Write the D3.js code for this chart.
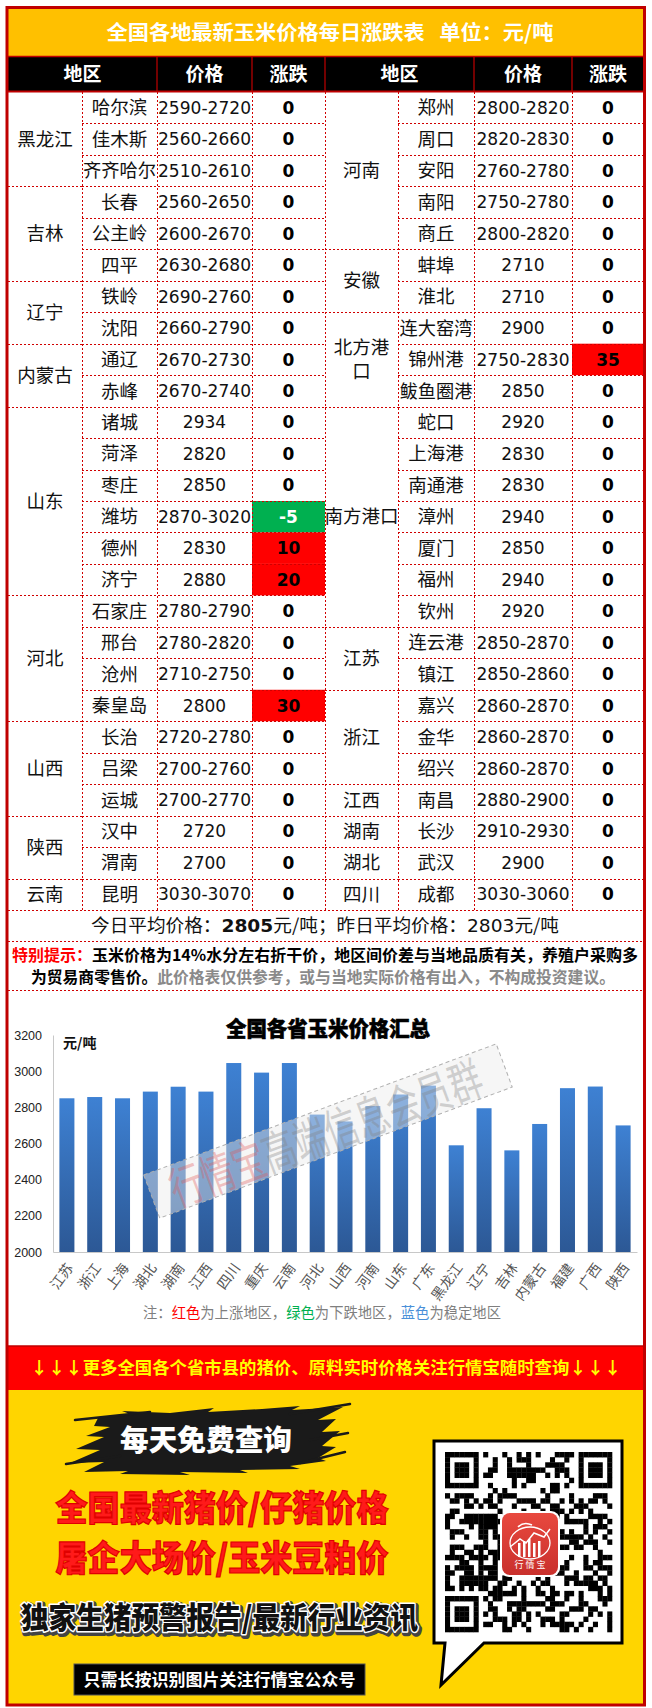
<!DOCTYPE html>
<html>
<head>
<meta charset="utf-8">
<script src="https://cdn.jsdelivr.net/npm/d3@7"></script>
<style>
  body { margin: 0; background: #fff; }
  svg { display: block; }
</style>
</head>
<body>
<div id="page"></div>
<script>
// ---- table data: [province, city, price, change] ----
const leftRows = [
  ['黑龙江', '哈尔滨', '2590-2720', 0],
  ['黑龙江', '佳木斯', '2560-2660', 0],
  ['黑龙江', '齐齐哈尔', '2510-2610', 0],
  ['吉林', '长春', '2560-2650', 0],
  ['吉林', '公主岭', '2600-2670', 0],
  ['吉林', '四平', '2630-2680', 0],
  ['辽宁', '铁岭', '2690-2760', 0],
  ['辽宁', '沈阳', '2660-2790', 0],
  ['内蒙古', '通辽', '2670-2730', 0],
  ['内蒙古', '赤峰', '2670-2740', 0],
  ['山东', '诸城', '2934', 0],
  ['山东', '菏泽', '2820', 0],
  ['山东', '枣庄', '2850', 0],
  ['山东', '潍坊', '2870-3020', -5],
  ['山东', '德州', '2830', 10],
  ['山东', '济宁', '2880', 20],
  ['河北', '石家庄', '2780-2790', 0],
  ['河北', '邢台', '2780-2820', 0],
  ['河北', '沧州', '2710-2750', 0],
  ['河北', '秦皇岛', '2800', 30],
  ['山西', '长治', '2720-2780', 0],
  ['山西', '吕梁', '2700-2760', 0],
  ['山西', '运城', '2700-2770', 0],
  ['陕西', '汉中', '2720', 0],
  ['陕西', '渭南', '2700', 0],
  ['云南', '昆明', '3030-3070', 0]
];
const rightRows = [
  ['河南', '郑州', '2800-2820', 0],
  ['河南', '周口', '2820-2830', 0],
  ['河南', '安阳', '2760-2780', 0],
  ['河南', '南阳', '2750-2780', 0],
  ['河南', '商丘', '2800-2820', 0],
  ['安徽', '蚌埠', '2710', 0],
  ['安徽', '淮北', '2710', 0],
  ['北方港口', '连大窑湾', '2900', 0],
  ['北方港口', '锦州港', '2750-2830', 35],
  ['北方港口', '鲅鱼圈港', '2850', 0],
  ['南方港口', '蛇口', '2920', 0],
  ['南方港口', '上海港', '2830', 0],
  ['南方港口', '南通港', '2830', 0],
  ['南方港口', '漳州', '2940', 0],
  ['南方港口', '厦门', '2850', 0],
  ['南方港口', '福州', '2940', 0],
  ['南方港口', '钦州', '2920', 0],
  ['江苏', '连云港', '2850-2870', 0],
  ['江苏', '镇江', '2850-2860', 0],
  ['浙江', '嘉兴', '2860-2870', 0],
  ['浙江', '金华', '2860-2870', 0],
  ['浙江', '绍兴', '2860-2870', 0],
  ['江西', '南昌', '2880-2900', 0],
  ['湖南', '长沙', '2910-2930', 0],
  ['湖北', '武汉', '2900', 0],
  ['四川', '成都', '3030-3060', 0]
];
const headerLabels = ['地区', '价格', '涨跌'];
const todayAvg = 2805;
const yesterdayAvg = 2803;

// ---- chart data ----
const chartProvinces = ['江苏', '浙江', '上海', '湖北', '湖南', '江西', '四川', '重庆', '云南', '河北', '山西',
  '河南', '山东', '广东', '黑龙江', '辽宁', '吉林', '内蒙古', '福建', '广西', '陕西'];
const chartPrices = [2850, 2857, 2850, 2887, 2914, 2887, 3045, 2992, 3045, 2760, 2722,
  2807, 2871, 2920, 2590, 2795, 2562, 2708, 2906, 2915, 2700];
const yTicks = [2000, 2200, 2400, 2600, 2800, 3000, 3200];

const W = 652, H = 1708;
const CJK = '"Noto Sans CJK SC", "Noto Sans", sans-serif';
const NUM = '"DejaVu Sans", "Noto Sans CJK SC", sans-serif';
const DARKRED = '#C00000';

const svg = d3.select('#page').append('svg')
  .attr('width', W).attr('height', H);

// backgrounds
svg.append('rect').attr('x', 8).attr('y', 9).attr('width', 636).attr('height', 47).attr('fill', '#FFC000');
svg.append('rect').attr('x', 8).attr('y', 57).attr('width', 636).attr('height', 34).attr('fill', '#000');

svg.append('text')
  .attr('x', 330).attr('y', 33).attr('dy', '0.36em')
  .attr('text-anchor', 'middle')
  .attr('font-family', CJK).attr('font-weight', 700).attr('font-size', 20)
  .attr('fill', '#fff')
  .attr('textLength', 447).attr('lengthAdjust', 'spacingAndGlyphs')
  .text('全国各地最新玉米价格每日涨跌表\u00a0\u00a0\u00a0单位：元/吨');

// ---- table ----
const rowY = d3.scaleLinear().domain([0, leftRows.length]).range([92, 910]);
const rh = rowY(1) - rowY(0);
const leftCols = [8, 82, 157, 252, 325];
const rightCols = [325, 398, 474, 572, 644];
const wrapNames = { '北方港口': ['北方港', '口'] };

function groupRows(rows) {
  const out = [];
  rows.forEach((r, i) => {
    const last = out[out.length - 1];
    if (last && last.name === r[0]) last.n++;
    else out.push({ name: r[0], start: i, n: 1 });
  });
  return out;
}

// header
[leftCols, rightCols].forEach(cols => {
  const centers = [(cols[0] + cols[2]) / 2, (cols[2] + cols[3]) / 2, (cols[3] + cols[4]) / 2];
  svg.append('g').selectAll('text').data(headerLabels).join('text')
    .attr('x', (d, i) => centers[i]).attr('y', 74).attr('dy', '0.36em')
    .attr('text-anchor', 'middle')
    .attr('font-family', CJK).attr('font-weight', 700).attr('font-size', 19)
    .attr('fill', '#fff')
    .text(d => d);
  svg.append('g').selectAll('line').data(cols.slice(2, 5)).join('line')
    .attr('x1', d => d).attr('x2', d => d).attr('y1', 57).attr('y2', 91)
    .attr('stroke', DARKRED).attr('stroke-width', 1.2);
});
svg.append('line').attr('x1', 8).attr('x2', 644).attr('y1', 56.5).attr('y2', 56.5)
  .attr('stroke', DARKRED).attr('stroke-width', 1.5);
svg.append('line').attr('x1', 8).attr('x2', 644).attr('y1', 91.5).attr('y2', 91.5)
  .attr('stroke', DARKRED).attr('stroke-width', 2);

function drawSide(rows, cols) {
  const g = svg.append('g');
  const data = rows.map((r, i) => ({ prov: r[0], city: r[1], price: r[2], chg: r[3], i }));

  // coloured change cells
  g.selectAll('rect.chg').data(data.filter(d => d.chg !== 0)).join('rect')
    .attr('class', 'chg')
    .attr('x', cols[3]).attr('width', cols[4] - cols[3])
    .attr('y', d => rowY(d.i)).attr('height', rh)
    .attr('fill', d => d.chg > 0 ? '#FF0000' : '#00B050');

  const dotted = sel => sel.attr('stroke', '#D00000').attr('stroke-width', 1).attr('stroke-dasharray', '2,2');

  // row lines through city / price / change columns
  g.selectAll('line.row').data(d3.range(1, rows.length)).join('line')
    .attr('x1', cols[1]).attr('x2', cols[4])
    .attr('y1', d => Math.round(rowY(d)) + 0.5).attr('y2', d => Math.round(rowY(d)) + 0.5)
    .call(dotted);

  const groups = groupRows(rows);
  g.selectAll('line.grp').data(groups.slice(1)).join('line')
    .attr('x1', cols[0]).attr('x2', cols[1])
    .attr('y1', d => Math.round(rowY(d.start)) + 0.5).attr('y2', d => Math.round(rowY(d.start)) + 0.5)
    .call(dotted);

  g.selectAll('line.col').data(cols.slice(1, 5)).join('line')
    .attr('x1', d => d + 0.5).attr('x2', d => d + 0.5)
    .attr('y1', 92).attr('y2', 910)
    .call(dotted);

  // province labels
  groups.forEach(gp => {
    const cy = rowY(gp.start + gp.n / 2);
    const lines = wrapNames[gp.name] || [gp.name];
    g.append('g').selectAll('text').data(lines).join('text')
      .attr('x', (cols[0] + cols[1]) / 2)
      .attr('y', (d, k) => cy + (k - (lines.length - 1) / 2) * 24)
      .attr('dy', '0.36em').attr('text-anchor', 'middle')
      .attr('font-family', CJK).attr('font-size', 18.5).attr('fill', '#111')
      .text(d => d);
  });

  // cities
  g.selectAll('text.city').data(data).join('text')
    .attr('x', (cols[1] + cols[2]) / 2).attr('y', d => rowY(d.i + 0.5))
    .attr('dy', '0.36em').attr('text-anchor', 'middle')
    .attr('font-family', CJK).attr('font-size', 18.5).attr('fill', '#111')
    .attr('textLength', d => d.city.length > 3 ? 73 : null)
    .attr('lengthAdjust', 'spacingAndGlyphs')
    .text(d => d.city);

  // prices
  g.selectAll('text.price').data(data).join('text')
    .attr('x', (cols[2] + cols[3]) / 2).attr('y', d => rowY(d.i + 0.5))
    .attr('dy', '0.36em').attr('text-anchor', 'middle')
    .attr('font-family', NUM).attr('font-size', 17).attr('fill', '#111')
    .attr('textLength', d => d.price.length > 4 ? 93 : null)
    .attr('lengthAdjust', 'spacingAndGlyphs')
    .text(d => d.price);

  // changes
  g.selectAll('text.chgt').data(data).join('text')
    .attr('x', (cols[3] + cols[4]) / 2).attr('y', d => rowY(d.i + 0.5))
    .attr('dy', '0.36em').attr('text-anchor', 'middle')
    .attr('font-family', NUM).attr('font-weight', 700).attr('font-size', 17)
    .attr('fill', d => d.chg < 0 ? '#fff' : '#000')
    .text(d => d.chg);
}
drawSide(leftRows, leftCols);
drawSide(rightRows, rightCols);

[910.5, 941.5, 990.5].forEach(yy => {
  svg.append('line').attr('x1', 8).attr('x2', 644).attr('y1', yy).attr('y2', yy)
    .attr('stroke', '#D00000').attr('stroke-width', 1).attr('stroke-dasharray', '2,2');
});

// averages
const avg = svg.append('text')
  .attr('x', 325).attr('y', 926).attr('dy', '0.36em').attr('text-anchor', 'middle')
  .attr('font-family', CJK).attr('font-size', 18).attr('fill', '#111')
  .attr('textLength', 468).attr('lengthAdjust', 'spacingAndGlyphs');
avg.append('tspan').text('今日平均价格：');
avg.append('tspan').attr('font-weight', 700).attr('font-family', NUM).text(todayAvg);
avg.append('tspan').text('元/吨；昨日平均价格：');
avg.append('tspan').attr('font-family', NUM).text(yesterdayAvg);
avg.append('tspan').text('元/吨');

// special note
const n1 = svg.append('text')
  .attr('x', 12).attr('y', 955).attr('dy', '0.36em')
  .attr('font-family', CJK).attr('font-size', 16).attr('font-weight', 700)
  .attr('textLength', 626).attr('lengthAdjust', 'spacingAndGlyphs');
n1.append('tspan').attr('fill', '#FF0000').text('特别提示：');
n1.append('tspan').attr('fill', '#000').text('玉米价格为14%水分左右折干价，地区间价差与当地品质有关，养殖户采购多');
const n2 = svg.append('text')
  .attr('x', 31).attr('y', 977).attr('dy', '0.36em')
  .attr('font-family', CJK).attr('font-size', 16).attr('font-weight', 700)
  .attr('textLength', 584).attr('lengthAdjust', 'spacingAndGlyphs');
n2.append('tspan').attr('fill', '#000').text('为贸易商零售价。');
n2.append('tspan').attr('fill', '#8a8a8a').text('此价格表仅供参考，或与当地实际价格有出入，不构成投资建议。');

// ---- bar chart ----
const defs = svg.append('defs');
const grad = defs.append('linearGradient').attr('id', 'barGrad')
  .attr('x1', 0).attr('y1', 0).attr('x2', 0).attr('y2', 1);
grad.append('stop').attr('offset', 0).attr('stop-color', '#3E81D3');
grad.append('stop').attr('offset', 1).attr('stop-color', '#2C5895');

const x = d3.scaleBand().domain(chartProvinces).range([53, 637])
  .paddingInner(0.46).paddingOuter(0.23);
const y = d3.scaleLinear().domain([2000, 3200]).range([1252, 1035]);

svg.append('text')
  .attr('x', 328).attr('y', 1028).attr('dy', '0.36em').attr('text-anchor', 'middle')
  .attr('font-family', CJK).attr('font-weight', 900).attr('font-size', 21)
  .attr('stroke', '#000').attr('stroke-width', 0.6)
  .attr('textLength', 204).attr('lengthAdjust', 'spacingAndGlyphs')
  .text('全国各省玉米价格汇总');

svg.append('g').selectAll('rect').data(chartProvinces).join('rect')
  .attr('x', d => x(d)).attr('width', x.bandwidth())
  .attr('y', (d, i) => y(chartPrices[i]))
  .attr('height', (d, i) => y(2000) - y(chartPrices[i]))
  .attr('fill', 'url(#barGrad)');

const yAxis = svg.append('g').attr('transform', 'translate(53,0)')
  .call(d3.axisLeft(y).tickValues(yTicks).tickSize(0).tickSizeOuter(0).tickPadding(11).tickFormat(d3.format('d')));
yAxis.select('.domain').attr('stroke', '#c8c8c8');
yAxis.selectAll('text')
  .attr('font-family', '"Liberation Sans Narrow", "Liberation Sans", sans-serif')
  .attr('font-size', 12.5).attr('fill', '#222');

const xAxis = svg.append('g').attr('transform', 'translate(0,1252)')
  .call(d3.axisBottom(x).tickSize(0).tickSizeOuter(0));
xAxis.select('.domain').attr('stroke', '#c8c8c8');
xAxis.selectAll('text')
  .attr('y', 0).attr('dy', '0.35em')
  .attr('transform', 'translate(3,13) rotate(-54)')
  .attr('text-anchor', 'end')
  .attr('font-family', CJK).attr('font-size', 14).attr('fill', '#555');

svg.append('text')
  .attr('x', 63).attr('y', 1043).attr('dy', '0.36em')
  .attr('font-family', CJK).attr('font-weight', 700).attr('font-size', 14).attr('fill', '#111')
  .text('元/吨');

// watermark
const wm = svg.append('g').attr('transform', 'translate(328,1131) rotate(-20.4)');
wm.append('rect').attr('x', -188).attr('y', -23).attr('width', 376).attr('height', 46)
  .attr('fill', 'rgba(235,235,235,0.45)')
  .attr('stroke', '#b0b0b0').attr('stroke-width', 1).attr('stroke-dasharray', '4,3');
const wmt = wm.append('text').attr('x', -168).attr('y', 2).attr('dy', '0.36em')
  .attr('font-family', CJK).attr('font-size', 46)
  .attr('textLength', 330).attr('lengthAdjust', 'spacingAndGlyphs');
wmt.append('tspan').attr('fill', 'rgba(225,90,90,0.35)').text('行情宝');
wmt.append('tspan').attr('fill', 'rgba(130,130,130,0.35)').text('高端信息会员群');

// legend note
const note = svg.append('text')
  .attr('x', 322).attr('y', 1313).attr('dy', '0.36em').attr('text-anchor', 'middle')
  .attr('font-family', CJK).attr('font-size', 15)
  .attr('textLength', 358).attr('lengthAdjust', 'spacingAndGlyphs');
[['注：', '#7f7f7f'], ['红色', '#FF0000'], ['为上涨地区，', '#7f7f7f'], ['绿色', '#00B050'],
 ['为下跌地区，', '#7f7f7f'], ['蓝色', '#4A90D9'], ['为稳定地区', '#7f7f7f']]
  .forEach(p => note.append('tspan').attr('fill', p[1]).text(p[0]));

// ---- promo footer ----
svg.append('rect').attr('x', 8).attr('y', 1346).attr('width', 636).attr('height', 44).attr('fill', '#FF0000');
svg.append('line').attr('x1', 8).attr('x2', 644).attr('y1', 1346).attr('y2', 1346).attr('stroke', DARKRED).attr('stroke-width', 1.5);
svg.append('text')
  .attr('x', 326).attr('y', 1368).attr('dy', '0.36em').attr('text-anchor', 'middle')
  .attr('font-family', CJK).attr('font-weight', 700).attr('font-size', 17).attr('fill', '#FFFF00')
  .attr('textLength', 591).attr('lengthAdjust', 'spacingAndGlyphs')
  .text('↓↓↓更多全国各个省市县的猪价、原料实时价格关注行情宝随时查询↓↓↓');

svg.append('rect').attr('x', 8).attr('y', 1390).attr('width', 636).attr('height', 316).attr('fill', '#FFD500');

// brush stroke behind the headline
const brush = svg.append('g');
brush.append('path')
  .attr('d', 'M98,1418 L130,1414 L122,1411 L170,1413 L214,1408 L208,1412 L262,1409 L300,1406 L292,1410 L343,1407 ' +
    'L318,1420 L336,1419 L322,1432 L340,1431 L322,1446 L336,1447 L318,1458 L326,1461 L290,1466 L300,1469 ' +
    'L240,1470 L248,1473 L180,1472 L190,1475 L120,1474 L128,1471 L84,1472 L104,1462 L70,1463 L100,1450 ' +
    'L76,1449 L104,1437 L86,1436 L110,1427 L94,1426 Z')
  .attr('fill', '#1a1a1a');
[[75, 1420, 150, 1412], [290, 1414, 350, 1404], [300, 1463, 345, 1452], [66, 1464, 120, 1456], [310, 1440, 348, 1433]]
  .forEach(s => brush.append('line')
    .attr('x1', s[0]).attr('y1', s[1]).attr('x2', s[2]).attr('y2', s[3])
    .attr('stroke', '#1a1a1a').attr('stroke-width', 2.5).attr('stroke-linecap', 'round'));
svg.append('text')
  .attr('x', 206).attr('y', 1441).attr('dy', '0.36em').attr('text-anchor', 'middle')
  .attr('font-family', CJK).attr('font-weight', 900).attr('font-size', 29).attr('fill', '#fff')
  .attr('textLength', 172).attr('lengthAdjust', 'spacingAndGlyphs')
  .text('每天免费查询');

[['全国最新猪价/仔猪价格', 1508], ['屠企大场价/玉米豆粕价', 1558]].forEach(t => {
  svg.append('text')
    .attr('x', 222).attr('y', t[1]).attr('dy', '0.36em').attr('text-anchor', 'middle')
    .attr('font-family', CJK).attr('font-weight', 900).attr('font-size', 35)
    .attr('fill', '#FF1A1A').attr('stroke', '#E00000').attr('stroke-width', 1.2)
    .attr('textLength', 333).attr('lengthAdjust', 'spacingAndGlyphs')
    .text(t[0]);
});

const slogan = '独家生猪预警报告/最新行业资讯';
svg.append('text')
  .attr('x', 221).attr('y', 1619).attr('dy', '0.36em').attr('text-anchor', 'middle')
  .attr('font-family', CJK).attr('font-weight', 900).attr('font-size', 30)
  .attr('fill', '#444').attr('stroke', '#444').attr('stroke-width', 6).attr('stroke-linejoin', 'round')
  .attr('textLength', 397).attr('lengthAdjust', 'spacingAndGlyphs')
  .text(slogan);
svg.append('text')
  .attr('x', 219.5).attr('y', 1617).attr('dy', '0.36em').attr('text-anchor', 'middle')
  .attr('font-family', CJK).attr('font-weight', 900).attr('font-size', 30)
  .attr('fill', '#111').attr('stroke', '#fff').attr('stroke-width', 3).attr('paint-order', 'stroke')
  .attr('stroke-linejoin', 'round')
  .attr('textLength', 397).attr('lengthAdjust', 'spacingAndGlyphs')
  .text(slogan);

svg.append('rect').attr('x', 74).attr('y', 1664).attr('width', 291).attr('height', 31)
  .attr('fill', '#000').attr('stroke', '#555').attr('stroke-width', 1);
svg.append('text')
  .attr('x', 219.5).attr('y', 1679.5).attr('dy', '0.36em').attr('text-anchor', 'middle')
  .attr('font-family', CJK).attr('font-weight', 700).attr('font-size', 17).attr('fill', '#fff')
  .attr('textLength', 272).attr('lengthAdjust', 'spacingAndGlyphs')
  .text('只需长按识别图片关注行情宝公众号');

// QR speech bubble
svg.append('path')
  .attr('d', 'M434,1441 L622,1441 L622,1643 L484,1643 L441,1685 L445,1643 L434,1643 Z')
  .attr('fill', '#fff').attr('stroke', '#000').attr('stroke-width', 3).attr('stroke-linejoin', 'miter');

const N = 35, qx0 = 445, qy0 = 1452, mw = 167 / N, mh = 180 / N;
const qr = svg.append('g');
function finder(cx, cy) {
  return (i, j) => {
    const a = i - cx, b = j - cy;
    if (a < 0 || a > 6 || b < 0 || b > 6) return null;
    const r = Math.max(Math.abs(a - 3), Math.abs(b - 3));
    return r === 3 || r <= 1;
  };
}
const finders = [finder(0, 0), finder(N - 7, 0), finder(0, N - 7)];
const cells = [];
for (let j = 0; j < N; j++) {
  for (let i = 0; i < N; i++) {
    let on = null;
    for (const f of finders) { const v = f(i, j); if (v !== null) on = v; }
    if (on === null) {
      const nearFinder = (i < 8 && j < 8) || (i > N - 9 && j < 8) || (i < 8 && j > N - 9);
      if (nearFinder) on = false;
      else {
        const h = Math.sin(i * 12.9898 + j * 78.233) * 43758.5453;
        on = (h - Math.floor(h)) < 0.5;
      }
    }
    if (on) cells.push([i, j]);
  }
}
qr.selectAll('rect').data(cells).join('rect')
  .attr('x', d => qx0 + d[0] * mw).attr('y', d => qy0 + d[1] * mh)
  .attr('width', mw + 0.3).attr('height', mh + 0.3).attr('fill', '#000');

// logo
const lg = svg.append('g').attr('transform', 'translate(502,1513)');
const lgGrad = defs.append('linearGradient').attr('id', 'logoGrad')
  .attr('x1', 0).attr('y1', 0).attr('x2', 0).attr('y2', 1);
lgGrad.append('stop').attr('offset', 0).attr('stop-color', '#E8493F');
lgGrad.append('stop').attr('offset', 1).attr('stop-color', '#C9302C');
lg.append('rect').attr('x', -2).attr('y', -2).attr('width', 60).attr('height', 66).attr('rx', 9).attr('fill', '#fff');
lg.append('rect').attr('width', 56).attr('height', 62).attr('rx', 8).attr('fill', 'url(#logoGrad)');
lg.append('ellipse').attr('cx', 28).attr('cy', 30).attr('rx', 20).attr('ry', 16)
  .attr('fill', 'none').attr('stroke', '#fff').attr('stroke-width', 1.3);
lg.append('path').attr('d', 'M16,14 Q22,8 30,12').attr('fill', 'none').attr('stroke', '#fff').attr('stroke-width', 1.5);
lg.append('g').selectAll('rect').data([0, 1, 2, 3, 4]).join('rect')
  .attr('x', d => 16 + d * 5).attr('y', d => 30 - (d % 3) * 2).attr('width', 2.5)
  .attr('height', d => 14 + (d % 3) * 2).attr('fill', '#fff');
lg.append('polyline').attr('points', '8,34 18,26 24,30 32,20 42,24 48,16')
  .attr('fill', 'none').attr('stroke', '#fff').attr('stroke-width', 1.5);
lg.append('text').attr('x', 28).attr('y', 55).attr('text-anchor', 'middle')
  .attr('font-family', CJK).attr('font-size', 9).attr('fill', '#fff')
  .text('行 情 宝');

// outer border
svg.append('rect').attr('x', 7).attr('y', 7.5).attr('width', 637.5).attr('height', 1697.5)
  .attr('fill', 'none').attr('stroke', DARKRED).attr('stroke-width', 3);
</script>
</body>
</html>
